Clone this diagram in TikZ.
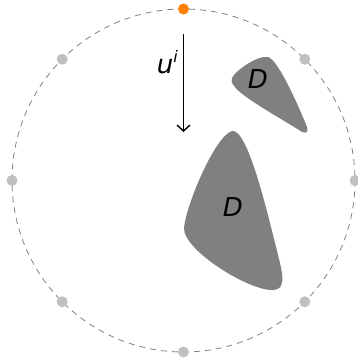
\documentclass[tikz,border=0pt]{standalone}
\usepackage{fontspec}
\setmainfont{DejaVu Sans}
\usetikzlibrary{arrows.meta,calc}
\definecolor{dotgray}{HTML}{C0C0C0}
\definecolor{dotorange}{HTML}{FF8000}
\definecolor{shapegray}{HTML}{808080}
\tikzset{
  rimdot/.style={circle,fill=dotgray,inner sep=0pt,minimum size=11pt},
  srcdot/.style={circle,fill=dotorange,inner sep=0pt,minimum size=11pt},
  body/.style={fill=shapegray,draw=none},
  lbl/.style={font=\fontsize{26}{26}\selectfont\itshape,inner sep=0pt},
}
\begin{document}
\begin{tikzpicture}[x=1pt,y=-1pt]
\useasboundingbox (0,0) rectangle (358,359);
\coordinate (c) at (183.5,180.5);
\draw[gray,line width=0.8pt,dash pattern=on 6pt off 5pt] (c) circle[radius=171.5];
% scatterers
\path[body] (232,131) .. controls (215,136) and (186,205) .. (184,228)
  .. controls (183,250) and (250,292) .. (274,290)
  .. controls (285,289) and (283,276) .. (280,263)
  .. controls (268,215) and (248,128) .. (232,131) -- cycle;
\path[body] (232,78) .. controls (236,70) and (258,55) .. (268,57)
  .. controls (279,60) and (301,112) .. (307,127)
  .. controls (309,134) and (304,134) .. (299,130)
  .. controls (280,118) and (242,97) .. (235,87)
  .. controls (231,83) and (231,80) .. (232,78) -- cycle;
\node[lbl] (d1) at (233,207) {D};
\node[lbl] (d2) at (258,79) {D};
% incident wave
\coordinate (a1) at (183.5,34);
\coordinate (a2) at (183.5,132);
\draw[line width=1.4pt,-{Straight Barb[length=6pt,width=13pt,line width=1.4pt]}] (a1) -- (a2);
\node[lbl,anchor=east] (u) at (178,62) {u\raisebox{0.45em}{\fontsize{16}{16}\selectfont i}};
% receivers
\foreach \ang/\nm in {45/r1,135/r2,180/r3,0/r4,225/r5,315/r6,90/r7} {
  \node[rimdot] (\nm) at ($(c)+(\ang:171.5)$) {};
}
\node[srcdot] (s) at ($(c)+(270:171.5)$) {};
\end{tikzpicture}
\end{document}
